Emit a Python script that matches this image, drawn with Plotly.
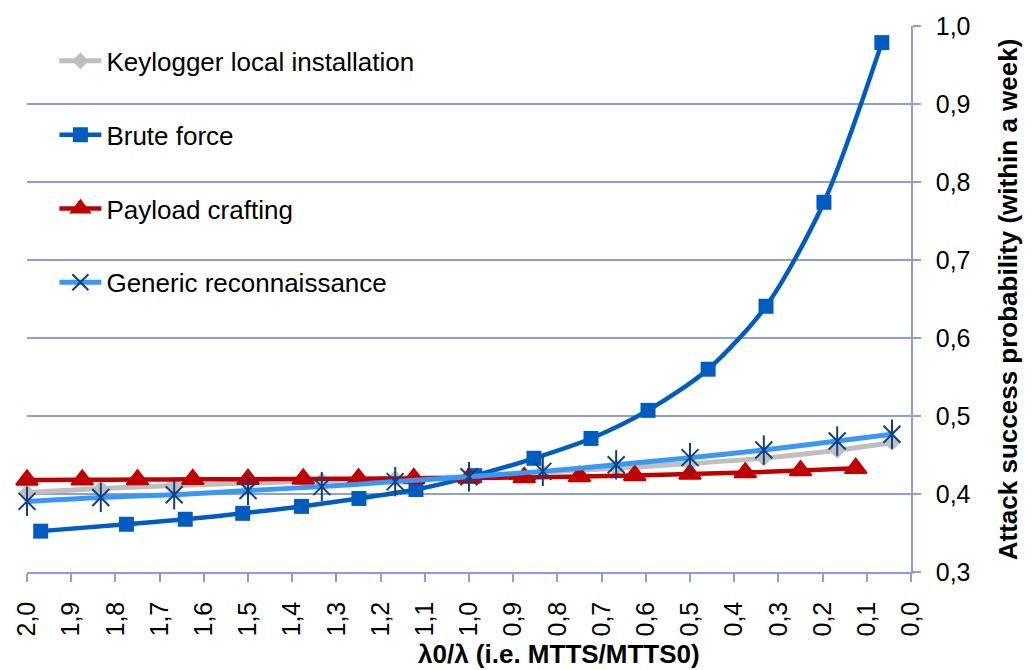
import plotly.graph_objects as go

# ---- data ----
series_names = ["Keylogger local installation", "Brute force", "Payload crafting", "Generic reconnaissance"]

keylogger_x = [2.0, 1.833, 1.667, 1.5, 1.333, 1.167, 1.0, 0.833, 0.667, 0.5, 0.333, 0.167, 0.043]
keylogger_y = [0.402, 0.407, 0.411, 0.414, 0.417, 0.420, 0.4225, 0.428, 0.433, 0.439, 0.446, 0.456, 0.466]

brute_x = [1.969, 1.775, 1.642, 1.512, 1.379, 1.249, 1.120, 0.987, 0.853, 0.724, 0.595, 0.459, 0.328, 0.197, 0.066]
brute_y = [0.3524, 0.3612, 0.3676, 0.3752, 0.3841, 0.3943, 0.4057, 0.4235, 0.4458, 0.4712, 0.5072, 0.560, 0.6407, 0.774, 0.9787]

payload_x = [2.0, 1.875, 1.75, 1.625, 1.5, 1.375, 1.25, 1.125, 1.0, 0.875, 0.75, 0.625, 0.5, 0.375, 0.25, 0.125]
payload_y = [0.418, 0.4182, 0.4185, 0.4188, 0.419, 0.4193, 0.4196, 0.420, 0.4205, 0.4212, 0.4225, 0.4238, 0.4255, 0.4275, 0.430, 0.433]

recon_x = [2.0, 1.833, 1.667, 1.5, 1.333, 1.167, 1.0, 0.833, 0.667, 0.5, 0.333, 0.167, 0.043]
recon_y = [0.3905, 0.3956, 0.399, 0.4044, 0.4095, 0.4159, 0.4222, 0.429, 0.4374, 0.4466, 0.4564, 0.4679, 0.4767]

x_title = "λ0/λ (i.e. MTTS/MTTS0)"
y_title = "Attack success probability (within a week)"

# ---- styles ----
FONT = "Arial, 'Liberation Sans', sans-serif"
GRID = "#8C9ED6"
C_GRAY = "#BFBFBF"
C_BRUTE = "#005CBF"
C_RED = "#C00000"
C_LBLUE = "#3A98F5"
C_STAR = "#123F80"

fig = go.Figure()

fig.add_trace(go.Scatter(
    x=keylogger_x, y=keylogger_y, name=series_names[0], legendgroup="g0",
    mode="lines+markers", line=dict(color=C_GRAY, width=5, shape="spline", smoothing=0.8),
    marker=dict(symbol="diamond", size=13, color=C_GRAY), cliponaxis=False,
))
fig.add_trace(go.Scatter(
    x=brute_x, y=brute_y, name=series_names[1], legendgroup="g1",
    mode="lines+markers", line=dict(color=C_BRUTE, width=4.5, shape="spline", smoothing=0.8),
    marker=dict(symbol="square", size=15, color=C_BRUTE), cliponaxis=False,
))
fig.add_trace(go.Scatter(
    x=payload_x, y=payload_y, name=series_names[2], legendgroup="g2",
    mode="lines+markers", line=dict(color=C_RED, width=4.5, shape="spline", smoothing=0.8),
    marker=dict(symbol="triangle-up", size=19, color=C_RED, line=dict(color=C_RED, width=2)),
    cliponaxis=False,
))
fig.add_trace(go.Scatter(
    x=recon_x, y=recon_y, name=series_names[3], legendgroup="g3",
    mode="lines+markers", line=dict(color=C_LBLUE, width=5, shape="spline", smoothing=0.8),
    marker=dict(symbol="x-thin", size=17, color=C_STAR, line=dict(color=C_STAR, width=2)),
    cliponaxis=False,
))
fig.add_trace(go.Scatter(
    x=recon_x, y=recon_y, name=series_names[3], legendgroup="g3", showlegend=False,
    mode="markers",
    marker=dict(symbol="line-ns", size=21, color=C_STAR, line=dict(color=C_STAR, width=2)),
    hoverinfo="skip", cliponaxis=False,
))

fig.update_layout(
    width=1034, height=670,
    margin=dict(l=22, r=123, t=21, b=98),
    paper_bgcolor="white", plot_bgcolor="white",
    separators=",.",
    font=dict(family=FONT, size=25, color="black"),
    showlegend=True,
    legend=dict(
        x=0.031, y=0.979, xanchor="left", yanchor="top",
        bgcolor="rgba(0,0,0,0)", borderwidth=0,
        font=dict(family=FONT, size=26, color="black"),
        itemwidth=42, tracegroupgap=37, traceorder="grouped",
    ),
    xaxis=dict(
        range=[2.0, 0.0], dtick=0.1, tick0=0, tickformat=".1f",
        tickangle=-90, ticks="outside", ticklen=8, tickcolor=GRID, tickwidth=1.5,
        showline=True, linecolor=GRID, linewidth=1.5,
        showgrid=False, zeroline=False, ticklabelstandoff=10,
        tickfont=dict(family=FONT, size=25, color="black"),
    ),
    yaxis=dict(
        range=[0.3, 1.0], dtick=0.1, tick0=0.3, tickformat=".1f",
        side="right", ticks="outside", ticklen=8, tickcolor=GRID, tickwidth=1.5,
        showline=True, linecolor=GRID, linewidth=1.5,
        showgrid=True, gridcolor=GRID, gridwidth=1.5, zeroline=False,
        ticklabelstandoff=10,
        tickfont=dict(family=FONT, size=25, color="black"),
    ),
    annotations=[
        dict(text="<b>" + x_title + "</b>", xref="paper", yref="paper",
             x=0.602, y=-0.150, xanchor="center", yanchor="middle", showarrow=False,
             font=dict(family=FONT, size=26, color="black")),
        dict(text="<b>" + y_title + "</b>", xref="paper", yref="paper",
             x=1.110, y=0.5, xanchor="center", yanchor="middle", showarrow=False,
             textangle=-90, font=dict(family=FONT, size=26, color="black")),
    ],
)

fig.write_html("out.html")
